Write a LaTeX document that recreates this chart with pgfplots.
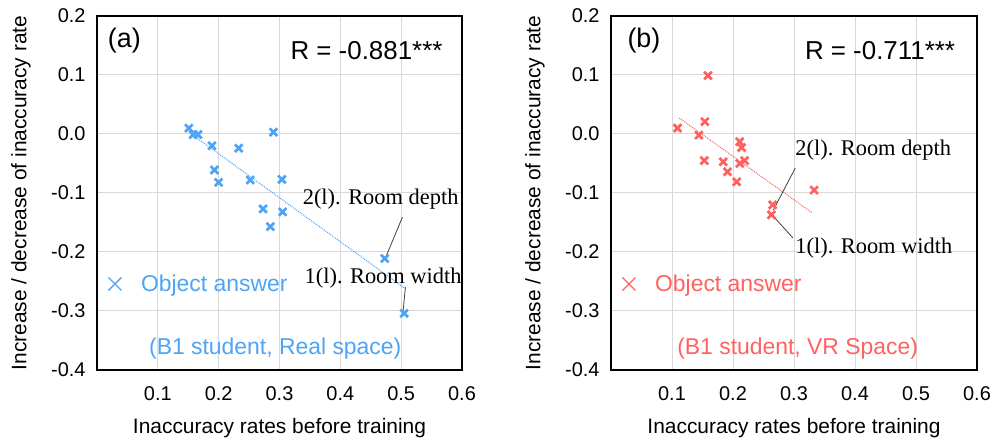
\documentclass[border=0pt]{standalone}
\usepackage{pgfplots}
\pgfplotsset{compat=1.18}
\usepackage{fontspec}
\setmainfont{Liberation Sans}
\newfontfamily\tnr{Liberation Serif}
\definecolor{blueC}{RGB}{77,163,245}
\definecolor{redC}{RGB}{255,96,96}
\definecolor{gridC}{RGB}{217,217,217}
\pgfplotsset{
 myaxis/.style={
  scale only axis, width=365bp, height=354bp, anchor=south west,
  xmin=0,xmax=0.6,ymin=-0.4,ymax=0.2,
  xtick={0.1,0.2,0.3,0.4,0.5,0.6}, xticklabels={0.1,0.2,0.3,0.4,0.5,0.6},
  ytick={-0.4,-0.3,-0.2,-0.1,0,0.1,0.2}, yticklabels={-0.4,-0.3,-0.2,-0.1,0.0,0.1,0.2},
  grid=major, major grid style={gridC, line width=1bp},
  major tick length=0pt,
  axis line style={black, line width=1.2bp},
  tick label style={font=\fontsize{20}{24}\selectfont},
  yticklabel style={xshift=-8bp},
  xticklabel style={yshift=-13bp},
  xlabel={Inaccuracy rates before training},
  ylabel={Increase / decrease of inaccuracy rate},
  every axis x label/.style={at={(axis description cs:0.5,-0.164)},anchor=center,font=\fontsize{21}{25}\selectfont},
  every axis y label/.style={at={(axis description cs:-0.208,0.5)},rotate=90,anchor=center,font=\fontsize{21}{25}\selectfont},
  clip=false,
  legend style={draw=none, fill=none, at={(axis description cs:0.029,0.243)}, anchor=west, font=\fontsize{23}{27}\selectfont, inner sep=0pt, nodes={inner sep=0pt}},
  legend cell align=left,
 },
 pts/.style={only marks, mark=x, mark size=5.4bp, mark options={line width=2.7bp}},
}
\begin{document}
\begin{tikzpicture}
\useasboundingbox (0,0) rectangle (992bp,441bp);
% ---------- (a) ----------
\begin{axis}[myaxis, at={(97bp,71bp)},
  legend image code/.code={\draw[blueC, line width=1.3bp] (0bp,-6.5bp) -- (13bp,6.5bp) (0bp,6.5bp) -- (13bp,-6.5bp);}]
\addplot[pts, color=blueC] coordinates {
(0.151,0.010)(0.158,-0.001)(0.166,-0.001)(0.189,-0.020)(0.233,-0.024)
(0.290,0.003)(0.193,-0.061)(0.200,-0.082)(0.252,-0.078)(0.304,-0.077)
(0.273,-0.127)(0.305,-0.132)(0.285,-0.157)(0.473,-0.211)(0.505,-0.304)};
\addlegendentry{\hspace*{19bp}\textcolor{blueC}{Object answer}}
\addplot[forget plot, blueC, densely dotted, line width=1bp] coordinates {(0.155,0.0)(0.508,-0.263)};
\node[font=\fontsize{27}{30}\selectfont] at (axis cs:0.045,0.159) {(a)};
\node[font=\fontsize{26}{30}\selectfont] at (axis cs:0.443,0.142) {R = -0.881***};
\node[font=\fontsize{23}{27}\selectfont, text=blueC] at (axis cs:0.293,-0.363) {(B1 student, Real space)};
\node[font=\tnr\fontsize{22.5}{26}\selectfont, anchor=west, inner sep=0pt] at (axis cs:0.338,-0.110) {2(l). Room depth};
\node[font=\tnr\fontsize{22.5}{26}\selectfont, anchor=west, inner sep=0pt] at (axis cs:0.341,-0.244) {1(l). Room width};
\draw[black!75, line width=0.8bp] (axis cs:0.502,-0.141) -- (axis cs:0.475,-0.208);
\draw[black!75, line width=0.8bp] (axis cs:0.507,-0.259) -- (axis cs:0.503,-0.302);
\end{axis}
% ---------- (b) ----------
\begin{axis}[myaxis, at={(611bp,71bp)}, width=366bp,
  legend image code/.code={\draw[redC, line width=1.3bp] (0bp,-6.5bp) -- (13bp,6.5bp) (0bp,6.5bp) -- (13bp,-6.5bp);}]
\addplot[pts, color=redC] coordinates {
(0.159,0.099)(0.109,0.010)(0.154,0.021)(0.144,-0.002)(0.211,-0.013)
(0.214,-0.023)(0.153,-0.045)(0.184,-0.047)(0.211,-0.050)(0.219,-0.045)
(0.191,-0.064)(0.206,-0.081)(0.265,-0.120)(0.263,-0.137)(0.333,-0.095)};
\addlegendentry{\hspace*{19bp}\textcolor{redC}{Object answer}}
\addplot[forget plot, redC, densely dotted, line width=1bp] coordinates {(0.112,0.027)(0.329,-0.133)};
\node[font=\fontsize{27}{30}\selectfont] at (axis cs:0.054,0.159) {(b)};
\node[font=\fontsize{26}{30}\selectfont] at (axis cs:0.441,0.142) {R = -0.711***};
\node[font=\fontsize{23}{27}\selectfont, text=redC] at (axis cs:0.306,-0.363) {(B1 student, VR Space)};
\node[font=\tnr\fontsize{22.5}{26}\selectfont, anchor=west, inner sep=0pt] at (axis cs:0.302,-0.027) {2(l). Room depth};
\node[font=\tnr\fontsize{22.5}{26}\selectfont, anchor=west, inner sep=0pt] at (axis cs:0.302,-0.193) {1(l). Room width};
\draw[black!75, line width=0.8bp] (axis cs:0.302,-0.058) -- (axis cs:0.266,-0.129);
\draw[black!75, line width=0.8bp] (axis cs:0.298,-0.176) -- (axis cs:0.264,-0.137);
\end{axis}
\end{tikzpicture}
\end{document}
